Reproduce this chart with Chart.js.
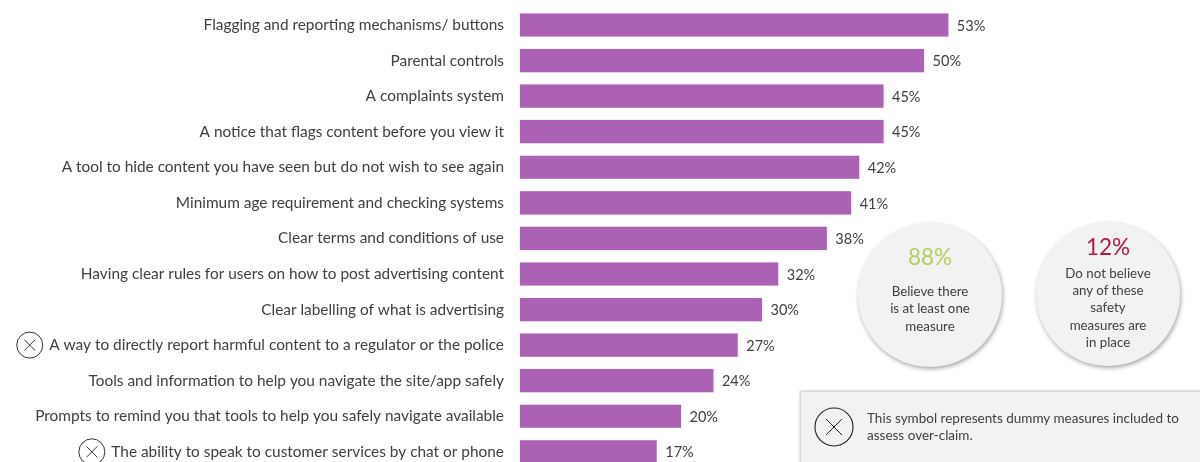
<!DOCTYPE html>
<html>
<head>
<meta charset="utf-8">
<title>Safety measures</title>
<script src="https://cdn.jsdelivr.net/npm/chart.js@4/dist/chart.umd.min.js"></script>
<style>
    html, body { margin: 0; padding: 0; background: #fff; overflow: hidden; }
    #page { position: relative; width: 1200px; height: 462px; overflow: hidden; font-family: Lato, sans-serif; color: #404040; }
    #chartBox { position: absolute; left: 0; top: 0; width: 1200px; height: 480px; }
    .bubble { position: absolute; width: 144px; height: 144px; border-radius: 50%; background: #f2f2f2; box-shadow: 1px 2px 4px rgba(0,0,0,0.35); }
    .bubble div { position: absolute; left: 0; width: 100%; text-align: center; }
    .big { font-size: 22.5px; line-height: 28px; }
    .line { font-size: 13.3px; line-height: 17px; }
    #note { position: absolute; left: 801px; top: 392px; width: 420px; height: 90px; background: #f2f2f2; box-shadow: -1px -1px 3px rgba(0,0,0,0.25); }
    #note svg { position: absolute; left: 12px; top: 14px; }
    #note p { position: absolute; left: 66px; top: 18px; margin: 0; font-size: 13.5px; line-height: 17.4px; width: 330px; }
</style>
</head>
<body>
<div id="page">
    <div id="chartBox"><canvas id="measuresChart"></canvas></div>

    <div class="bubble" style="left:858px;top:223px">
        <div class="big" style="top:20px;color:#b5cf5c">88%</div>
        <div class="line" style="top:60px">Believe there</div>
        <div class="line" style="top:77px">is at least one</div>
        <div class="line" style="top:95px">measure</div>
    </div>
    <div class="bubble" style="left:1036px;top:222px">
        <div class="big" style="top:11px;color:#b5174e">12%</div>
        <div class="line" style="top:43px">Do not believe</div>
        <div class="line" style="top:60px">any of these</div>
        <div class="line" style="top:77px">safety</div>
        <div class="line" style="top:95px">measures are</div>
        <div class="line" style="top:112px">in place</div>
    </div>

    <div id="note">
        <svg width="42" height="42" viewBox="0 0 42 42">
            <circle cx="21" cy="21" r="19" fill="none" stroke="#222" stroke-width="1.1"/>
            <path d="M13 13 L29 29 M29 13 L13 29" stroke="#222" stroke-width="1" fill="none"/>
        </svg>
        <p>This symbol represents dummy measures included to assess over-claim.</p>
    </div>
</div>

<script>
// Survey answers, top to bottom
const measures = [
    'Flagging and reporting mechanisms/ buttons',
    'Parental controls',
    'A complaints system',
    'A notice that flags content before you view it',
    'A tool to hide content you have seen but do not wish to see again',
    'Minimum age requirement and checking systems',
    'Clear terms and conditions of use',
    'Having clear rules for users on how to post advertising content',
    'Clear labelling of what is advertising',
    'A way to directly report harmful content to a regulator or the police',
    'Tools and information to help you navigate the site/app safely',
    'Prompts to remind you that tools to help you safely navigate available',
    'The ability to speak to customer services by chat or phone'
];
const percents = [53, 50, 45, 45, 42, 41, 38, 32, 30, 27, 24, 20, 17];
const dummyMeasures = [9, 12];

const labelFont = '15.4px Lato, sans-serif';
const valueFont = '14.5px Lato, sans-serif';
const textColor = '#404040';

// Percent labels at the end of each bar
const valueLabels = {
    id: 'valueLabels',
    afterDatasetsDraw(chart) {
        const ctx = chart.ctx;
        ctx.save();
        ctx.font = valueFont;
        ctx.fillStyle = textColor;
        ctx.textBaseline = 'middle';
        chart.getDatasetMeta(0).data.forEach((bar, i) => {
            ctx.fillText(percents[i] + '%', bar.x + 8, bar.y + 1);
        });
        ctx.restore();
    }
};

// Crossed circle in front of the dummy measures
const dummyIcons = {
    id: 'dummyIcons',
    afterDraw(chart) {
        const ctx = chart.ctx;
        const y = chart.scales.y;
        ctx.save();
        ctx.font = labelFont;
        dummyMeasures.forEach(i => {
            const textWidth = ctx.measureText(measures[i]).width;
            const cx = y.right - 15.5 - textWidth - 19.5;
            const cy = y.getPixelForValue(i);
            ctx.strokeStyle = '#333';
            ctx.lineWidth = 1;
            ctx.beginPath();
            ctx.arc(cx, cy, 13, 0, Math.PI * 2);
            ctx.moveTo(cx - 5.5, cy - 5.5);
            ctx.lineTo(cx + 5.5, cy + 5.5);
            ctx.moveTo(cx + 5.5, cy - 5.5);
            ctx.lineTo(cx - 5.5, cy + 5.5);
            ctx.stroke();
        });
        ctx.restore();
    }
};

new Chart(document.getElementById('measuresChart'), {
    type: 'bar',
    data: {
        labels: measures,
        datasets: [{
            data: percents,
            backgroundColor: '#ab62b4',
            borderColor: '#e2c8e6',
            borderWidth: 0.5,
            barPercentage: 0.68,
            categoryPercentage: 1
        }]
    },
    options: {
        indexAxis: 'y',
        responsive: true,
        maintainAspectRatio: false,
        animation: false,
        layout: { padding: { top: 7.2, bottom: 10.4, left: 0, right: 0 } },
        plugins: { legend: { display: false }, tooltip: { enabled: false } },
        scales: {
            x: { display: false, min: 0, max: 84 },
            y: {
                grid: { display: false },
                border: { display: false },
                ticks: {
                    font: { family: 'Lato, sans-serif', size: 15.4 },
                    color: textColor,
                    padding: 7.5,
                    autoSkip: false
                },
                afterFit(scale) {
                    scale.width = 519.5;
                    // the tick labels may run up to the edges of the plot
                    scale.paddingTop = 0;
                    scale.paddingBottom = 0;
                }
            }
        }
    },
    plugins: [valueLabels, dummyIcons]
});
</script>
</body>
</html>
